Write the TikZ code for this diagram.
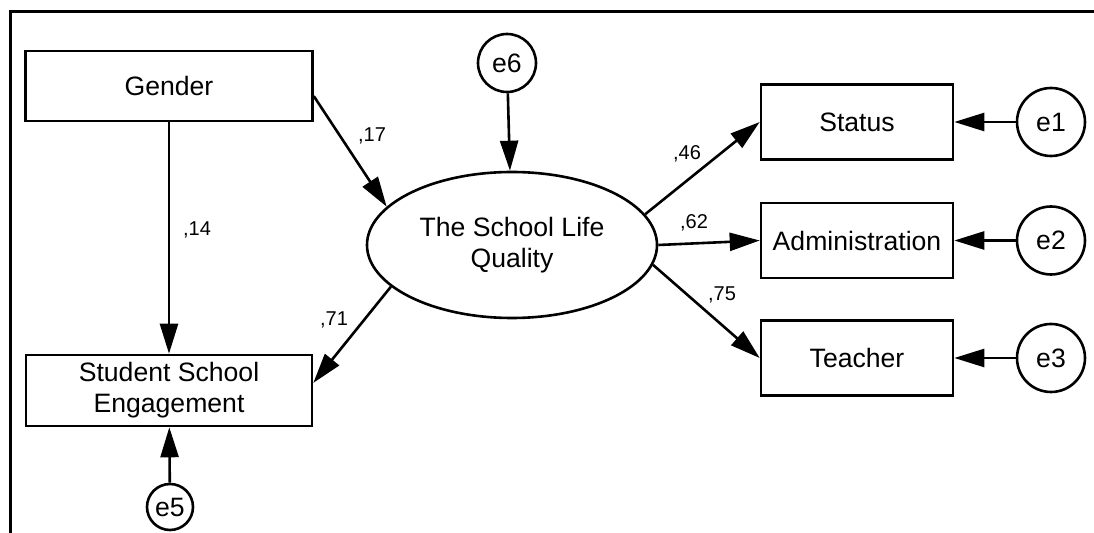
\documentclass[tikz,border=0pt]{standalone}
\usepackage{fontspec}
\setmainfont{Liberation Sans}
\usepackage{tikz}
\usetikzlibrary{arrows.meta,shapes,positioning,calc}
\newcommand{\semfont}{\fontsize{13.3}{15.5}\selectfont}

\begin{document}
\begin{tikzpicture}[x=0.5pt,y=-0.5pt,
    box/.style={draw,line width=1.3pt,inner sep=0pt,align=center,font=\semfont},
    latent/.style={draw,ellipse,line width=1.3pt,inner sep=0pt,align=center,font=\semfont},
    err/.style={draw,circle,line width=1.3pt,inner sep=0pt,font=\semfont},
    link/.style={line width=1.3pt,-{Triangle[length=15pt,width=9pt]}},
    coef/.style={inner sep=0pt,font=\fontsize{10}{12}\selectfont}]
    \useasboundingbox (0,0) rectangle (1094,533);
    \draw[line width=1.5pt] (1094,12) -- (10,12) -- (10,533);
    \node[box,minimum width=143.5pt,minimum height=35pt] (gender) at (169,86) {Gender};
    \node[box,minimum width=143pt,minimum height=35.5pt] (sse) at (169,390.5) {Student School\\Engagement};
    \node[latent,minimum width=145pt,minimum height=73pt] (slq) at (512,245) {The School Life\\Quality};
    \node[box,minimum width=96pt,minimum height=37.5pt] (status) at (857,122) {Status};
    \node[box,minimum width=96pt,minimum height=37.5pt] (admin) at (857,240.5) {Administration};
    \node[box,minimum width=96pt,minimum height=37.5pt] (teacher) at (857,358) {Teacher};
    \node[err,minimum size=34pt] (e1) at (1051,122) {e1};
    \node[err,minimum size=34pt] (e2) at (1051,240.5) {e2};
    \node[err,minimum size=34pt] (e3) at (1051,358) {e3};
    \node[err,minimum size=29pt] (e6) at (507,63) {e6};
    \node[err,minimum size=23pt] (e5) at (170,507) {e5};
    \draw[link] (gender.-4) -- (slq.163);
    \draw[link] (gender) -- (sse);
    \draw[link] (slq.199) -- (sse.3);
    \draw[link] (e6) -- (slq);
    \draw[link] (slq.13) -- (status.west);
    \draw[link] (slq.east) -- (admin.west);
    \draw[link] (slq.-8) -- (teacher.west);
    \draw[link] (e1) -- (status);
    \draw[link] (e2) -- (admin);
    \draw[link] (e3) -- (teacher);
    \draw[link] (e5) -- (sse);
    \node[coef] (c17) at (372,136) {,17};
    \node[coef] (c14) at (197,230) {,14};
    \node[coef] (c71) at (334,320) {,71};
    \node[coef] (c46) at (687,154) {,46};
    \node[coef] (c62) at (694,223) {,62};
    \node[coef] (c75) at (722,295) {,75};
\end{tikzpicture}
\end{document}
